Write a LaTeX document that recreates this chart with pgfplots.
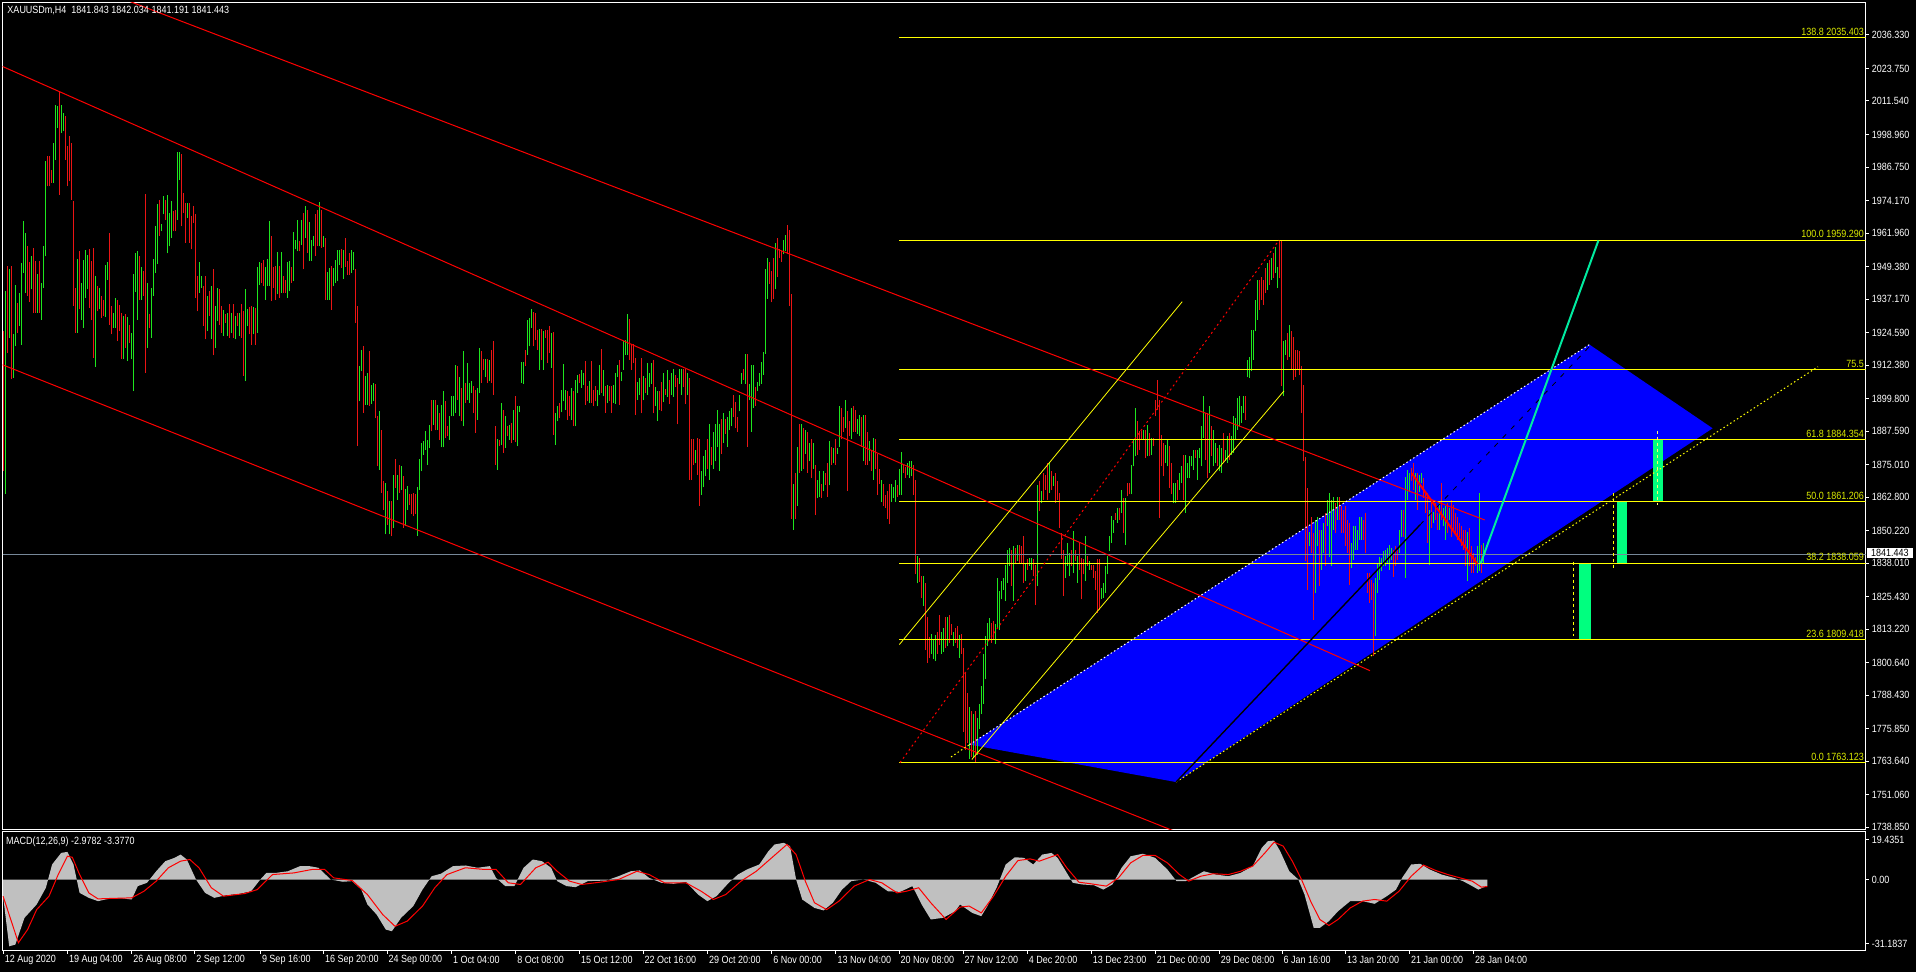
\documentclass[border=0pt]{standalone}
\usepackage{fontspec}
\setmainfont{Liberation Sans}[FakeStretch=0.86]
\usepackage{pgfplots}
\usepackage{pgfplotstable}
\pgfplotsset{compat=1.18}

\definecolor{bull}{RGB}{30,230,30}
\definecolor{bear}{RGB}{235,20,20}
\definecolor{fibyel}{RGB}{255,255,0}
\definecolor{fibtxt}{RGB}{220,235,0}
\definecolor{bidline}{RGB}{119,136,153}
\definecolor{zone}{RGB}{0,0,255}
\definecolor{spring}{RGB}{0,255,127}
\definecolor{aqua}{RGB}{0,235,160}
\definecolor{histo}{RGB}{192,192,192}
\newcommand\lbl{\fontsize{10.5}{12}\selectfont}

% H4 bars: x position (px of the chart), low, high, c=1 up bar / 0 down bar
\pgfplotstableread{
x l h c
3.3 1872.6 1925.1 0
5.3 1863.9 1940.1 1
7.3 1917.0 1949.5 0
9.3 1922.6 1948.3 1
11.3 1907.0 1949.5 0
13.3 1907.6 1923.9 1
15.3 1919.5 1942.6 1
17.3 1924.5 1935.8 0
19.3 1927.0 1939.5 1
21.3 1920.1 1950.7 1
23.3 1947.0 1966.6 1
25.3 1939.5 1962.0 1
27.3 1938.3 1957.0 0
29.3 1936.0 1951.0 0
31.3 1940.8 1953.5 1
33.3 1932.0 1956.4 0
35.3 1932.0 1951.4 0
37.3 1932.0 1946.4 1
39.3 1932.0 1951.4 0
41.3 1929.5 1943.3 1
43.3 1941.4 1957.2 1
45.3 1953.2 1989.1 1
47.3 1979.5 1990.8 0
49.3 1979.5 1990.8 0
51.3 1980.8 1985.8 0
53.3 1980.8 1995.8 1
55.3 1989.5 2010.1 1
57.3 2001.4 2009.8 1
59.3 1976.4 2015.4 0
61.3 1999.5 2010.1 1
63.3 2000.1 2007.0 1
65.3 1989.5 2006.0 0
67.3 1979.5 1994.8 0
69.3 1981.4 1998.3 0
71.3 1974.5 1995.8 0
73.3 1934.5 1974.1 0
75.3 1924.5 1941.4 0
77.3 1924.5 1952.4 1
79.3 1933.3 1955.4 0
81.3 1929.5 1943.3 1
83.3 1926.4 1952.0 1
85.3 1937.6 1955.5 1
87.3 1940.8 1953.6 1
89.3 1933.9 1956.1 0
91.3 1929.5 1951.4 0
93.3 1915.1 1956.4 0
95.3 1911.8 1946.0 1
97.3 1932.6 1942.0 0
99.3 1933.3 1941.4 1
101.3 1930.1 1938.5 0
103.3 1930.8 1937.0 0
105.3 1930.4 1949.9 1
107.3 1944.5 1951.0 1
109.3 1927.6 1962.0 0
111.3 1923.9 1934.5 0
113.3 1926.4 1932.0 1
115.3 1926.4 1937.6 1
117.3 1921.4 1937.0 0
119.3 1925.1 1934.8 0
121.3 1914.5 1932.0 0
123.3 1914.5 1930.8 1
125.3 1918.9 1931.4 0
127.3 1913.9 1930.5 1
129.3 1920.8 1927.6 0
131.3 1914.5 1924.3 1
133.3 1902.6 1946.4 1
135.3 1939.8 1954.5 1
137.3 1929.5 1955.1 1
139.3 1937.0 1953.3 0
141.3 1937.0 1949.3 1
143.3 1938.3 1947.6 0
145.3 1909.5 1976.6 0
147.3 1918.9 1943.3 1
149.3 1926.4 1931.4 0
151.3 1922.6 1941.4 1
153.3 1938.5 1952.4 1
155.3 1947.0 1964.5 1
157.3 1950.4 1972.9 1
159.3 1960.8 1974.3 0
161.3 1962.6 1965.5 1
163.3 1969.0 1976.0 1
165.3 1967.0 1974.3 0
167.3 1954.3 1976.1 1
169.3 1957.0 1969.5 1
171.3 1960.1 1974.1 1
173.3 1962.6 1970.1 0
175.3 1962.6 1970.8 0
177.3 1967.0 1992.4 1
179.3 1982.0 1992.4 1
181.3 1964.5 1991.8 0
183.3 1969.5 1977.0 0
185.3 1958.3 1973.3 0
187.3 1967.6 1973.3 1
189.3 1958.3 1973.3 0
191.3 1955.8 1968.3 0
193.3 1965.8 1972.3 0
195.3 1937.6 1969.3 0
197.3 1932.6 1945.8 0
199.3 1939.5 1951.0 1
201.3 1941.4 1945.8 1
203.3 1927.0 1942.0 0
205.3 1922.0 1946.0 0
207.3 1925.1 1938.5 1
209.3 1930.8 1940.1 0
211.3 1922.0 1942.0 1
213.3 1916.0 1948.5 0
215.3 1918.9 1934.5 1
217.3 1928.9 1941.4 1
219.3 1927.6 1940.8 0
221.3 1924.5 1934.5 0
223.3 1923.3 1932.9 1
225.3 1928.3 1931.4 0
227.3 1923.3 1932.1 1
229.3 1922.6 1935.5 0
231.3 1924.5 1932.0 1
233.3 1922.6 1935.5 0
235.3 1922.0 1931.0 1
237.3 1927.0 1932.0 0
239.3 1923.3 1932.0 1
241.3 1922.6 1935.5 0
243.3 1908.3 1932.8 0
245.3 1906.4 1941.0 1
247.3 1927.0 1933.3 1
249.3 1923.9 1934.3 0
251.3 1920.1 1934.5 0
253.3 1923.9 1934.3 1
255.3 1920.1 1933.9 0
257.3 1924.5 1949.1 1
259.3 1942.6 1951.0 1
261.3 1943.3 1950.8 0
263.3 1942.0 1952.0 0
265.3 1937.0 1949.3 1
267.3 1942.0 1952.3 1
269.3 1942.0 1966.6 1
271.3 1936.4 1960.8 0
273.3 1941.4 1949.1 0
275.3 1937.0 1949.5 0
277.3 1938.9 1954.9 1
279.3 1937.6 1949.5 0
281.3 1939.5 1954.9 1
283.3 1939.5 1945.8 0
285.3 1939.5 1944.5 0
287.3 1937.6 1951.0 1
289.3 1940.1 1951.4 1
291.3 1943.3 1949.3 0
293.3 1943.9 1962.4 1
295.3 1955.8 1959.3 1
297.3 1955.1 1967.0 1
299.3 1955.1 1958.9 0
301.3 1957.6 1967.0 1
303.3 1948.3 1969.5 0
305.3 1960.1 1972.0 1
307.3 1954.5 1970.8 0
309.3 1951.4 1966.1 1
311.3 1951.4 1959.5 1
313.3 1957.0 1960.8 1
315.3 1953.3 1969.1 0
317.3 1957.0 1970.8 0
319.3 1957.0 1973.6 1
321.3 1956.4 1970.8 0
323.3 1956.9 1960.9 1
325.3 1936.9 1960.0 0
327.3 1936.9 1947.5 1
329.3 1936.9 1948.8 1
331.3 1933.2 1949.6 0
333.3 1941.9 1948.8 1
335.3 1943.2 1951.9 1
337.3 1943.8 1955.6 1
339.3 1950.0 1955.6 1
341.3 1948.8 1955.9 0
343.3 1944.7 1955.6 1
345.3 1949.4 1960.0 0
347.3 1946.3 1951.3 0
349.3 1946.3 1954.4 0
351.3 1946.9 1955.6 1
353.3 1948.1 1955.0 1
355.3 1928.1 1948.4 0
357.3 1882.1 1934.4 0
359.3 1898.8 1911.9 1
361.3 1910.0 1918.1 1
363.3 1894.4 1919.6 0
365.3 1897.5 1908.4 1
367.3 1897.5 1909.4 1
369.3 1897.2 1917.5 0
371.3 1897.9 1905.0 1
373.3 1898.8 1905.6 1
375.3 1892.5 1905.4 0
377.3 1874.4 1893.1 0
379.3 1873.1 1895.0 1
381.3 1864.4 1888.1 0
383.3 1858.1 1868.8 0
385.3 1848.8 1868.1 1
387.3 1852.5 1865.0 0
389.3 1848.8 1861.3 1
391.3 1848.1 1861.3 0
393.3 1851.3 1871.3 1
395.3 1866.3 1877.1 0
397.3 1861.9 1871.3 1
399.3 1864.4 1875.0 0
401.3 1865.6 1874.4 1
403.3 1851.3 1870.9 0
405.3 1851.9 1865.9 1
407.3 1858.1 1866.9 1
409.3 1860.0 1863.8 0
411.3 1856.3 1863.8 0
413.3 1855.6 1864.4 0
415.3 1856.3 1863.8 0
417.3 1848.4 1866.5 1
419.3 1865.6 1877.1 1
421.3 1872.5 1883.1 1
423.3 1878.8 1883.8 1
425.3 1880.6 1887.5 1
427.3 1875.0 1884.4 1
429.3 1881.3 1890.0 1
431.3 1887.5 1899.4 0
433.3 1890.0 1899.4 1
435.3 1887.9 1899.4 0
437.3 1888.1 1897.5 1
439.3 1884.4 1894.4 0
441.3 1881.5 1897.3 1
443.3 1881.5 1902.5 1
445.3 1885.0 1898.8 0
447.3 1885.6 1889.4 0
449.3 1884.4 1893.1 1
451.3 1893.1 1900.6 1
453.3 1893.1 1900.6 1
455.3 1894.4 1912.5 1
457.3 1899.4 1911.9 0
459.3 1893.1 1908.1 1
461.3 1891.3 1903.8 0
463.3 1889.4 1917.5 1
465.3 1898.1 1905.6 0
467.3 1899.4 1913.1 1
469.3 1898.1 1905.6 1
471.3 1901.9 1906.3 1
473.3 1894.4 1904.4 0
475.3 1886.9 1903.1 0
477.3 1891.9 1903.8 1
479.3 1901.9 1918.8 1
481.3 1905.6 1917.5 0
483.3 1910.6 1914.8 0
485.3 1908.1 1914.6 1
487.3 1905.6 1914.8 0
489.3 1906.3 1914.4 1
491.3 1905.6 1918.1 0
493.3 1901.3 1921.3 0
495.3 1875.0 1889.4 0
497.3 1873.1 1884.6 1
499.3 1881.9 1884.4 0
501.3 1882.5 1898.3 1
503.3 1879.4 1895.6 0
505.3 1881.3 1893.1 1
507.3 1885.6 1889.4 0
509.3 1884.4 1890.0 1
511.3 1883.1 1890.6 0
513.3 1884.4 1895.6 1
515.3 1883.4 1900.9 0
517.3 1881.9 1897.1 1
519.3 1894.9 1897.1 1
521.3 1905.6 1913.4 1
523.3 1905.4 1913.6 1
525.3 1911.9 1918.1 0
527.3 1916.3 1929.4 1
529.3 1919.4 1930.0 1
531.3 1926.3 1933.5 1
533.3 1919.4 1932.2 0
535.3 1921.9 1931.9 0
537.3 1918.1 1925.6 0
539.3 1910.6 1925.9 1
541.3 1914.4 1925.9 0
543.3 1910.6 1925.0 1
545.3 1922.5 1925.4 0
547.3 1913.1 1925.4 0
549.3 1916.9 1926.9 0
551.3 1911.3 1924.4 1
553.3 1886.3 1924.9 0
555.3 1882.5 1894.4 1
557.3 1891.3 1896.9 1
559.3 1892.5 1898.1 0
561.3 1894.6 1903.1 1
563.3 1898.8 1912.9 1
565.3 1895.6 1903.1 1
567.3 1891.9 1902.5 0
569.3 1893.1 1900.6 0
571.3 1891.9 1903.8 1
573.3 1889.4 1902.5 0
575.3 1889.4 1906.9 1
577.3 1901.9 1908.8 1
579.3 1905.6 1909.1 0
581.3 1903.8 1910.6 1
583.3 1905.0 1909.4 1
585.3 1897.5 1914.0 0
587.3 1898.8 1904.6 0
589.3 1898.1 1906.3 1
591.3 1898.1 1913.8 0
593.3 1896.9 1903.1 0
595.3 1898.8 1904.4 0
597.3 1896.9 1903.1 1
599.3 1901.3 1912.3 1
601.3 1901.9 1918.5 0
603.3 1900.6 1910.6 1
605.3 1894.4 1904.4 0
607.3 1898.1 1905.0 1
609.3 1898.8 1904.4 0
611.3 1894.4 1904.4 0
613.3 1898.1 1905.0 1
615.3 1897.9 1909.4 1
617.3 1908.1 1912.5 1
619.3 1897.5 1914.4 0
621.3 1906.3 1909.8 1
623.3 1910.6 1921.3 1
625.3 1916.3 1921.9 1
627.3 1916.3 1931.6 1
629.3 1914.4 1929.6 0
631.3 1910.6 1920.0 0
633.3 1913.1 1920.4 0
635.3 1893.8 1915.0 0
637.3 1899.4 1905.9 1
639.3 1901.3 1907.5 1
641.3 1894.3 1915.1 0
643.3 1899.1 1908.2 1
645.3 1901.9 1907.5 0
647.3 1901.2 1913.0 1
649.3 1904.0 1909.5 1
651.3 1905.4 1913.0 1
653.3 1894.3 1914.4 0
655.3 1897.0 1904.0 1
657.3 1891.5 1902.6 1
659.3 1895.6 1902.6 0
661.3 1895.0 1906.1 0
663.3 1898.4 1909.5 1
665.3 1901.2 1903.3 0
667.3 1900.5 1910.6 1
669.3 1897.7 1906.8 0
671.3 1901.2 1909.5 1
673.3 1900.5 1910.9 1
675.3 1904.0 1908.8 0
677.3 1890.1 1907.4 0
679.3 1905.4 1910.9 1
681.3 1901.2 1910.9 1
683.3 1904.0 1910.9 0
685.3 1897.7 1910.9 0
687.3 1901.2 1909.5 1
689.3 1869.3 1907.4 0
691.3 1869.3 1884.5 0
693.3 1874.8 1884.5 0
695.3 1875.5 1880.4 1
697.3 1871.3 1885.2 0
699.3 1859.5 1884.5 0
701.3 1863.7 1872.7 1
703.3 1866.5 1878.3 1
705.3 1870.6 1880.4 1
707.3 1873.4 1884.5 0
709.3 1869.3 1890.1 1
711.3 1874.8 1881.8 0
713.3 1873.4 1887.3 1
715.3 1876.2 1890.1 1
717.3 1881.8 1895.6 1
719.3 1872.7 1890.1 1
721.3 1879.0 1892.2 0
723.3 1883.2 1894.3 1
725.3 1886.6 1892.2 0
727.3 1881.8 1892.9 1
729.3 1888.0 1895.0 1
731.3 1889.4 1896.3 1
733.3 1892.9 1901.2 0
735.3 1888.7 1898.4 0
737.3 1887.3 1892.9 0
739.3 1895.0 1901.2 1
741.3 1905.4 1909.5 1
743.3 1906.8 1910.9 0
745.3 1905.4 1916.5 1
747.3 1881.8 1916.5 0
749.3 1899.1 1905.4 1
751.3 1887.3 1912.3 1
753.3 1896.3 1912.3 1
755.3 1897.0 1904.0 0
757.3 1902.6 1906.1 1
759.3 1904.7 1909.5 1
761.3 1905.4 1913.7 1
763.3 1908.8 1917.2 1
765.3 1916.5 1948.4 1
767.3 1937.3 1952.6 1
769.3 1942.9 1951.2 0
771.3 1935.9 1947.7 0
773.3 1937.3 1952.6 0
775.3 1940.8 1958.2 1
777.3 1945.6 1960.2 0
779.3 1952.6 1956.1 0
781.3 1951.2 1955.4 0
783.3 1954.0 1959.5 1
785.3 1955.4 1961.2 1
787.3 1954.0 1965.1 0
789.3 1934.5 1963.0 0
791.3 1854.7 1939.0 0
793.3 1850.5 1867.9 1
795.3 1854.7 1872.0 0
797.3 1859.5 1881.8 1
799.3 1872.0 1890.1 0
801.3 1872.7 1890.4 1
803.3 1873.4 1888.7 0
805.3 1879.0 1888.0 1
807.3 1872.0 1887.3 0
809.3 1876.2 1883.2 1
811.3 1870.0 1884.5 0
813.3 1873.4 1883.2 1
815.3 1856.1 1874.8 0
817.3 1862.3 1869.3 1
819.3 1863.0 1872.7 1
821.3 1862.3 1867.9 0
823.3 1865.1 1872.7 1
825.3 1867.2 1872.0 0
827.3 1863.0 1875.5 0
829.3 1867.2 1883.8 1
831.3 1874.8 1881.8 0
833.3 1875.5 1881.1 1
835.3 1874.8 1884.5 0
837.3 1879.0 1881.1 1
839.3 1881.8 1897.0 1
841.3 1884.5 1896.3 0
843.3 1887.3 1892.9 0
845.3 1888.7 1899.1 1
847.3 1865.1 1895.0 0
849.3 1885.9 1891.5 0
851.3 1884.5 1896.3 1
853.3 1887.3 1897.0 0
855.3 1887.3 1895.6 0
857.3 1886.6 1892.2 1
859.3 1885.9 1893.6 1
861.3 1881.8 1892.9 0
863.3 1876.2 1893.6 1
865.3 1874.8 1893.6 0
867.3 1874.8 1887.3 0
869.3 1876.2 1883.8 1
871.3 1872.7 1880.4 0
873.3 1869.3 1885.2 1
875.3 1873.4 1884.5 0
877.3 1863.7 1879.0 0
879.3 1867.9 1873.4 0
881.3 1860.9 1869.3 1
883.3 1859.5 1867.9 0
885.3 1858.8 1863.7 0
887.3 1854.7 1865.1 0
889.3 1852.6 1867.9 0
891.3 1860.9 1867.9 1
893.3 1862.3 1866.5 1
895.3 1860.9 1869.3 1
897.3 1863.0 1867.2 0
899.3 1863.7 1873.4 1
901.3 1863.7 1879.7 1
903.3 1872.0 1874.8 0
905.3 1870.0 1874.1 0
907.3 1871.3 1875.5 1
909.3 1870.0 1876.2 1
911.3 1870.6 1876.2 1
913.3 1863.7 1874.8 0
915.3 1833.8 1869.3 0
917.3 1830.4 1840.8 1
919.3 1831.1 1840.1 0
921.3 1824.8 1833.2 0
923.3 1822.0 1833.2 1
925.3 1805.4 1830.4 0
927.3 1800.5 1817.9 0
929.3 1802.6 1810.2 0
931.3 1804.0 1811.6 1
933.3 1801.9 1809.5 1
935.3 1801.2 1810.9 1
937.3 1804.0 1812.3 0
939.3 1807.4 1818.6 0
941.3 1804.0 1812.3 1
943.3 1804.7 1813.7 1
945.3 1806.1 1817.9 0
947.3 1806.8 1817.9 1
949.3 1808.2 1818.6 0
951.3 1810.9 1815.1 0
953.3 1806.8 1812.3 1
955.3 1808.2 1813.7 0
957.3 1806.1 1814.4 0
959.3 1802.6 1810.9 1
961.3 1804.0 1811.6 0
963.3 1774.8 1806.1 0
965.3 1768.0 1797.0 0
967.3 1770.5 1789.3 0
969.3 1764.5 1784.0 1
971.3 1765.2 1782.6 0
973.3 1765.2 1781.3 1
975.3 1763.1 1782.6 0
977.3 1766.0 1780.0 1
979.3 1775.9 1785.3 1
981.3 1781.3 1792.0 1
983.3 1785.3 1804.1 1
985.3 1794.4 1810.6 1
987.3 1806.9 1815.6 1
989.3 1809.4 1817.5 1
991.3 1808.1 1815.6 0
993.3 1809.4 1816.3 0
995.3 1807.5 1815.0 1
997.3 1813.8 1832.5 1
999.3 1813.1 1827.5 1
1001.3 1824.4 1831.3 1
1003.3 1828.1 1832.5 1
1005.3 1823.8 1837.5 1
1007.3 1830.6 1843.1 1
1009.3 1836.9 1843.8 1
1011.3 1829.4 1843.1 0
1013.3 1823.8 1844.4 1
1015.3 1838.1 1843.8 0
1017.3 1838.8 1845.0 1
1019.3 1838.1 1845.0 0
1021.3 1838.1 1844.4 0
1023.3 1830.6 1848.4 0
1025.3 1831.3 1838.1 1
1027.3 1835.6 1839.4 0
1029.3 1836.9 1840.0 1
1031.3 1835.6 1840.0 1
1033.3 1833.1 1839.4 0
1035.3 1822.5 1837.5 0
1037.3 1829.4 1867.5 1
1039.3 1857.5 1868.8 0
1041.3 1860.6 1865.0 1
1043.3 1861.9 1871.9 0
1045.3 1865.6 1871.3 0
1047.3 1861.9 1875.6 0
1049.3 1864.4 1875.6 1
1051.3 1865.6 1872.5 0
1053.3 1866.9 1870.6 1
1055.3 1860.6 1871.9 0
1057.3 1861.9 1868.8 0
1059.3 1851.3 1864.4 0
1061.3 1839.4 1849.4 0
1063.3 1825.6 1843.1 0
1065.3 1832.5 1840.6 1
1067.3 1836.9 1845.6 1
1069.3 1833.1 1841.9 1
1071.3 1836.9 1843.1 0
1073.3 1834.4 1850.0 1
1075.3 1838.8 1843.1 0
1077.3 1830.6 1840.6 1
1079.3 1835.6 1845.6 0
1081.3 1824.4 1840.0 0
1083.3 1833.8 1839.4 0
1085.3 1831.3 1848.1 1
1087.3 1836.9 1840.6 0
1089.3 1835.6 1838.8 1
1091.3 1835.6 1837.5 0
1093.3 1832.5 1837.5 0
1095.3 1828.1 1835.0 0
1097.3 1819.4 1839.4 0
1099.3 1820.6 1839.4 0
1101.3 1824.4 1828.8 1
1103.3 1825.0 1830.6 1
1105.3 1826.9 1836.9 1
1107.3 1833.8 1840.6 1
1109.3 1842.5 1848.1 1
1111.3 1845.6 1855.6 1
1113.3 1849.4 1854.4 1
1115.3 1854.4 1856.9 0
1117.3 1853.1 1858.8 1
1119.3 1854.4 1858.8 0
1121.3 1856.9 1865.6 1
1123.3 1849.4 1862.5 0
1125.3 1845.0 1862.5 1
1127.3 1863.1 1868.1 0
1129.3 1863.8 1868.1 0
1131.3 1863.8 1875.0 1
1133.3 1874.4 1884.4 1
1135.3 1878.1 1896.3 1
1137.3 1878.8 1891.3 0
1139.3 1880.6 1887.5 0
1141.3 1884.4 1887.5 0
1143.3 1884.4 1888.1 1
1145.3 1877.5 1888.1 0
1147.3 1878.1 1890.0 1
1149.3 1878.1 1886.9 0
1151.3 1878.8 1885.0 1
1153.3 1881.9 1885.0 0
1155.3 1893.1 1899.4 0
1157.3 1895.6 1906.9 0
1159.3 1855.0 1899.4 0
1161.3 1874.4 1886.3 0
1163.3 1870.6 1883.1 0
1165.3 1875.6 1882.5 1
1167.3 1874.4 1884.4 1
1169.3 1866.3 1881.9 0
1171.3 1863.8 1875.6 0
1173.3 1860.6 1868.1 1
1175.3 1860.6 1868.1 1
1177.3 1861.9 1869.4 0
1179.3 1865.6 1871.9 1
1181.3 1868.1 1874.4 1
1183.3 1861.9 1878.8 0
1185.3 1856.9 1878.8 1
1187.3 1870.0 1875.6 1
1189.3 1870.0 1878.1 1
1191.3 1874.4 1878.1 1
1193.3 1873.1 1880.6 1
1195.3 1877.5 1880.6 0
1197.3 1869.4 1880.6 1
1199.3 1877.5 1881.3 1
1201.3 1874.4 1889.4 1
1203.3 1885.0 1900.6 1
1205.3 1876.9 1894.4 0
1207.3 1870.0 1894.4 0
1209.3 1871.9 1896.9 1
1211.3 1878.1 1889.4 0
1213.3 1874.4 1888.1 1
1215.3 1875.6 1883.1 1
1217.3 1874.4 1881.3 0
1219.3 1872.5 1882.5 1
1221.3 1871.9 1881.3 1
1223.3 1875.6 1886.9 0
1225.3 1876.3 1880.6 1
1227.3 1875.6 1885.6 1
1229.3 1876.9 1886.9 0
1231.3 1878.8 1885.6 1
1233.3 1879.4 1893.1 1
1235.3 1884.4 1892.5 1
1237.3 1888.1 1900.0 1
1239.3 1889.4 1900.6 1
1241.3 1890.6 1896.9 1
1243.3 1894.4 1900.6 1
1245.3 1891.9 1900.6 0
1247.3 1908.1 1914.4 1
1249.3 1907.5 1915.6 1
1251.3 1910.0 1925.6 1
1253.3 1914.4 1925.6 1
1255.3 1925.0 1936.9 1
1257.3 1929.4 1944.4 1
1259.3 1933.1 1944.4 0
1261.3 1936.9 1945.6 0
1263.3 1935.0 1944.4 0
1265.3 1939.4 1948.8 0
1267.3 1940.6 1950.6 1
1269.3 1942.5 1951.9 0
1271.3 1944.4 1952.5 1
1273.3 1945.0 1954.4 0
1275.3 1946.9 1956.9 1
1277.3 1941.3 1949.4 1
1279.3 1945.0 1959.3 0
1281.3 1904.4 1959.4 0
1283.3 1900.6 1921.3 1
1285.3 1916.3 1921.9 1
1287.3 1914.4 1924.4 0
1289.3 1915.6 1927.5 1
1291.3 1910.6 1925.0 0
1293.3 1906.9 1923.1 0
1295.3 1908.1 1918.1 0
1297.3 1910.6 1918.1 0
1299.3 1908.8 1917.5 0
1301.3 1894.4 1911.9 0
1303.3 1876.2 1905.0 0
1305.3 1838.9 1878.0 0
1307.3 1828.0 1866.2 0
1309.3 1844.3 1849.9 1
1311.3 1841.8 1855.5 0
1313.3 1816.8 1849.3 0
1315.3 1826.8 1854.3 1
1317.3 1844.3 1855.5 1
1319.3 1829.3 1850.5 0
1321.3 1835.5 1850.5 1
1323.3 1841.8 1853.0 1
1325.3 1836.8 1856.8 0
1327.3 1851.8 1861.8 1
1329.3 1840.5 1864.3 1
1331.3 1836.8 1861.8 1
1333.3 1850.5 1863.0 1
1335.3 1849.3 1860.5 0
1337.3 1854.3 1863.0 1
1339.3 1854.3 1863.0 0
1341.3 1849.3 1859.3 0
1343.3 1849.3 1858.0 0
1345.3 1844.3 1859.3 0
1347.3 1841.8 1854.3 0
1349.3 1829.9 1853.0 0
1351.3 1836.2 1845.5 1
1353.3 1839.3 1851.8 1
1355.3 1843.0 1851.8 1
1357.3 1843.0 1850.5 1
1359.3 1846.8 1855.5 1
1361.3 1846.8 1855.5 1
1363.3 1846.8 1854.3 0
1365.3 1841.8 1856.8 0
1367.3 1826.8 1834.3 0
1369.3 1823.1 1834.3 0
1371.3 1824.3 1831.8 0
1373.3 1803.1 1830.5 0
1375.3 1810.5 1832.4 1
1377.3 1826.8 1838.0 1
1379.3 1831.8 1840.5 1
1381.3 1834.9 1839.9 1
1383.3 1836.8 1842.4 1
1385.3 1836.8 1843.0 1
1387.3 1838.0 1843.7 1
1389.3 1835.5 1844.9 1
1391.3 1839.3 1843.7 1
1393.3 1833.0 1843.0 0
1395.3 1836.8 1844.3 0
1397.3 1839.3 1843.0 0
1399.3 1841.8 1850.5 1
1401.3 1848.0 1858.0 1
1403.3 1848.0 1858.0 0
1405.3 1832.4 1870.5 1
1407.3 1861.8 1873.0 1
1409.3 1864.9 1871.8 1
1411.3 1868.7 1873.7 0
1413.3 1865.5 1875.5 0
1415.3 1861.8 1871.8 1
1417.3 1858.0 1871.8 0
1419.3 1864.9 1871.2 1
1421.3 1868.0 1871.8 1
1423.3 1862.4 1869.9 0
1425.3 1856.8 1864.3 0
1427.3 1845.5 1864.3 0
1429.3 1837.4 1858.0 1
1431.3 1851.2 1861.2 0
1433.3 1853.0 1857.4 1
1435.3 1854.3 1860.5 0
1437.3 1850.5 1856.8 0
1439.3 1850.5 1860.5 1
1441.3 1854.3 1868.0 0
1443.3 1851.8 1858.7 1
1445.3 1846.8 1859.3 1
1447.3 1849.3 1860.5 0
1449.3 1854.3 1858.7 1
1451.3 1848.0 1861.8 0
1453.3 1850.5 1859.9 0
1455.3 1848.7 1856.8 0
1457.3 1846.8 1855.5 0
1459.3 1848.0 1853.0 0
1461.3 1844.3 1851.8 0
1463.3 1843.0 1850.5 0
1465.3 1836.8 1850.5 0
1467.3 1831.2 1849.9 1
1469.3 1836.8 1851.2 0
1471.3 1834.3 1844.3 0
1473.3 1834.3 1841.8 0
1475.3 1836.8 1840.5 0
1477.3 1834.3 1844.3 1
1479.3 1834.9 1864.3 1
1481.3 1834.3 1844.9 0
1483.3 1838.0 1845.5 1
1485.3 1841.2 1842.0 0
}\bars

\begin{document}
\begin{tikzpicture}
\fill[black] (0,0) rectangle (1916bp,972bp);

% ---------------- price panel ----------------
\begin{axis}[
  at={(2.5bp,142.7bp)}, anchor=south west,
  scale only axis, width=1863.2bp, height=827bp,
  xmin=2.5, xmax=1865.7, ymin=1738.1, ymax=2048.6,
  axis line style={white, line width=1bp},
  xtick=\empty,
  ytick={2036.33,2023.75,2011.54,1998.96,1986.75,1974.17,1961.96,1949.38,1937.17,1924.59,1912.38,1899.8,1887.59,1875.01,1862.8,1850.22,1838.01,1825.43,1813.22,1800.64,1788.43,1775.85,1763.64,1751.06,1738.85},
  yticklabels={2036.330,2023.750,2011.540,1998.960,1986.750,1974.170,1961.960,1949.380,1937.170,1924.590,1912.380,1899.800,1887.590,1875.010,1862.800,1850.220,1838.010,1825.430,1813.220,1800.640,1788.430,1775.850,1763.640,1751.060,1738.850},
  ytick pos=right, yticklabel pos=right,
  tick align=outside, major tick length=3bp,
  tick style={white, line width=1bp},
  yticklabel style={text=white, font=\lbl, inner sep=0pt, anchor=west, xshift=3bp},
  every axis plot/.append style={line cap=butt},
]
% blue zone (background object)
\addplot[fill=zone, draw=none] coordinates {(969.5,1769.9) (1589.4,1920.09) (1712.6,1888.66) (1176.1,1755.83)} -- cycle;
% green target boxes
\addplot[fill=spring, draw=none] coordinates {(1579,1809.42) (1591,1809.42) (1591,1838.06) (1579,1838.06)} -- cycle;
\addplot[fill=spring, draw=none] coordinates {(1617,1838.06) (1627,1838.06) (1627,1861.21) (1617,1861.21)} -- cycle;
\addplot[fill=spring, draw=none] coordinates {(1653,1861.21) (1663,1861.21) (1663,1884.35) (1653,1884.35)} -- cycle;

% bars
\addplot[bull, line width=1bp, quiver={u=0, v=\thisrow{h}-\thisrow{l}},
  restrict expr to domain={\thisrow{c}}{0.5:1.5}] table[x=x, y=l] {\bars};
\addplot[bear, line width=1bp, quiver={u=0, v=\thisrow{h}-\thisrow{l}},
  restrict expr to domain={\thisrow{c}}{-0.5:0.5}] table[x=x, y=l] {\bars};

% fibonacci levels
\addplot[fibyel, line width=1bp] coordinates {(899,2035.403) (1865.7,2035.403)};
\addplot[fibyel, line width=1bp] coordinates {(899,1959.29) (1865.7,1959.29)};
\addplot[fibyel, line width=1bp] coordinates {(899,1910.7) (1865.7,1910.7)};
\addplot[fibyel, line width=1bp] coordinates {(899,1884.354) (1865.7,1884.354)};
\addplot[fibyel, line width=1bp] coordinates {(899,1861.206) (1865.7,1861.206)};
\addplot[fibyel, line width=1bp] coordinates {(899,1838.059) (1865.7,1838.059)};
\addplot[fibyel, line width=1bp] coordinates {(899,1809.418) (1865.7,1809.418)};
\addplot[fibyel, line width=1bp] coordinates {(899,1763.123) (1865.7,1763.123)};
\addplot[red, line width=1bp, dash pattern=on 2bp off 3bp] coordinates {(900,1763.12) (1279,1959.29)};

% bid line
\addplot[bidline, line width=1bp] coordinates {(2.5,1841.443) (1865.7,1841.443)};

% descending red trend lines
\addplot[red, line width=1bp] coordinates {(125,2049.6) (1484.7,1854.23)};
\addplot[red, line width=1bp] coordinates {(2.5,2024.5) (1370,1797.65)};
\addplot[red, line width=1bp] coordinates {(2.5,1912.5) (1180,1736.56)};
\addplot[red, line width=2bp] coordinates {(1411.7,1871.76) (1477.3,1837.71)};

% rising yellow channel
\addplot[fibyel, line width=0.8bp] coordinates {(899.3,1807.45) (1182.2,1936.19)};
\addplot[fibyel, line width=0.8bp] coordinates {(971.8,1764.3) (1284,1902.7)};

% zone edges and median line
\addplot[white, line width=1bp, dash pattern=on 1.5bp off 2.5bp] coordinates {(969.5,1769.9) (1589.4,1920.09)};
\addplot[fibyel, line width=1bp, dash pattern=on 1.5bp off 2.5bp] coordinates {(951,1765.25) (969.5,1769.9)};
\addplot[fibyel, line width=1bp, dash pattern=on 1.5bp off 2.5bp] coordinates {(1176.1,1755.83) (1818,1911.79)};
\addplot[black, line width=1.4bp] coordinates {(1176.1,1755.83) (1420,1852.4)};
\addplot[black, line width=0.8bp, dash pattern=on 5bp off 7bp] coordinates {(1420,1852.4) (1590,1919.56)};

% projection line
\addplot[aqua, line width=2bp] coordinates {(1480.7,1837.97) (1598.4,1959.17)};

% dashed markers
\addplot[fibyel, line width=1bp, dash pattern=on 3bp off 3bp] coordinates {(1573,1838.6) (1573,1810.7)};
\addplot[fibyel, line width=1bp, dash pattern=on 3bp off 3bp] coordinates {(1613.3,1864.4) (1613.3,1836.2)};
\addplot[fibyel!60!white, line width=1bp, dash pattern=on 3bp off 3bp] coordinates {(1657.7,1887.8) (1657.7,1859.9)};

% fibonacci labels
\begin{scope}[every node/.style={anchor=south east, text=fibtxt, font=\lbl, inner sep=0pt, yshift=2bp}]
\node at (axis cs:1864,2035.403) {138.8 2035.403};
\node at (axis cs:1864,1959.29) {100.0 1959.290};
\node at (axis cs:1864,1910.7) {75.5};
\node at (axis cs:1864,1884.354) {61.8 1884.354};
\node at (axis cs:1864,1861.206) {50.0 1861.206};
\node at (axis cs:1864,1838.059) {38.2 1838.059};
\node at (axis cs:1864,1809.418) {23.6 1809.418};
\node at (axis cs:1864,1763.123) {0.0 1763.123};
\end{scope}
\end{axis}

% ---------------- MACD panel ----------------
\begin{axis}[
  at={(2.5bp,21.3bp)}, anchor=south west,
  scale only axis, width=1863.2bp, height=119bp,
  xmin=2.5, xmax=1865.7, ymin=-34.55, ymax=23.2,
  axis line style={white, line width=1bp},
  ytick={19.4351,0,-31.1837},
  yticklabels={19.4351,0.00,-31.1837},
  ytick pos=right, yticklabel pos=right,
  xtick={3.1,67.4,131.7,194.7,260.3,323.3,387,451.3,515.6,579.3,643,707.3,771.6,835.9,899,963,1027.1,1091.1,1155.1,1219.1,1282,1345.4,1409.4,1473.4},
  xticklabels={12 Aug 2020,19 Aug 04:00,26 Aug 08:00,2 Sep 12:00,9 Sep 16:00,16 Sep 20:00,24 Sep 00:00,1 Oct 04:00,8 Oct 08:00,15 Oct 12:00,22 Oct 16:00,29 Oct 20:00,6 Nov 00:00,13 Nov 04:00,20 Nov 08:00,27 Nov 12:00,4 Dec 20:00,13 Dec 23:00,21 Dec 00:00,29 Dec 08:00,6 Jan 16:00,13 Jan 20:00,21 Jan 00:00,28 Jan 04:00},
  xtick pos=bottom,
  tick align=outside, major tick length=3bp,
  tick style={white, line width=1bp},
  yticklabel style={text=white, font=\lbl, inner sep=0pt, anchor=west, xshift=3bp},
  xticklabel style={text=white, font=\lbl, inner sep=0pt, anchor=west, xshift=1.5bp, yshift=-6bp},
]
\addplot[fill=histo, draw=none] coordinates {
(3.1,0) (3.1,-8.1) (9.2,-32.4) (15.3,-31.6) (24.5,-18.6) (36.7,-12.1) (45.9,-4.0) (52.1,7.3) (61.2,12.9) (67.4,13.4) (73.5,7.3) (79.6,-6.5) (88.8,-8.9) (98,-10.5) (110.2,-9.2) (122.5,-9.2) (131.7,-9.7) (137.8,-3.2) (147,-1.6) (156.2,4.0) (165.3,8.9) (174.5,10.5) (180.6,12.1) (186.8,9.7) (196,0) (205.1,-6.5) (214.3,-8.9) (226.6,-7.6) (238.8,-7.0) (251.1,-5.7) (260.3,0) (266.4,3.2) (275.6,3.2) (287.8,4.0) (300.1,6.5) (309.2,6.5) (318.4,5.7) (330.7,0) (342.9,-1.1) (352.1,-0.8) (361.3,-4.9) (367.4,-12.1) (376.6,-17.0) (385.8,-24.3) (391.9,-25.1) (401.1,-18.6) (413.3,-12.9) (422.5,-4.9) (431.7,1.6) (440.9,2.8) (453.1,6.5) (465.4,6.8) (477.6,5.7) (489.9,6.5) (496,0.8) (505.2,-3.2) (514.4,-3.2) (523.6,5.7) (532.8,9.7) (541.9,8.9) (551.1,5.7) (557.2,-0.8) (566.4,-3.2) (575.6,-3.7) (587.9,-0.8) (606.2,-0.5) (618.5,1.6) (630.7,4.0) (639.9,4.4) (649.1,0.8) (661.4,-1.6) (673.6,-2.1) (685.9,-1.1) (698.1,-7.3) (707.3,-10.5) (716.5,-8.1) (728.7,-1.6) (737.9,2.4) (747.1,4.9) (759.3,7.3) (768.5,13.8) (774.6,17.0) (783.8,17.8) (790,16.2) (796.1,0) (802.2,-9.7) (814.5,-13.8) (823.6,-15.0) (832.8,-11.3) (842,-4.9) (851.2,-0.8) (863.4,0) (875.7,-1.6) (887.9,-5.7) (900.2,-6.0) (912.4,-3.2) (921.6,-12.1) (930.8,-19.4) (943,-18.6) (955.3,-15.4) (960,-12.1) (972.2,-16.2) (981.3,-17.8) (987.4,-12.9) (996.6,-4.0) (1005.7,7.3) (1014.9,10.8) (1024,10.5) (1033.2,7.3) (1042.3,12.1) (1051.5,12.9) (1057.6,10.5) (1063.7,5.7) (1072.8,-1.6) (1082,-2.4) (1094.1,-2.8) (1103.3,-4.9) (1112.4,-2.4) (1121.6,5.7) (1130.7,11.3) (1142.9,12.5) (1155.1,10.5) (1167.3,4.9) (1176.5,-0.8) (1185.6,-0.8) (1194.8,1.6) (1203.9,4.0) (1216.1,2.4) (1228.3,1.6) (1240.5,3.2) (1252.7,6.5) (1261.8,15.4) (1267.9,18.6) (1274,18.9) (1280.1,13.8) (1289.3,4.0) (1298.4,0) (1304.5,-7.3) (1313.7,-23.5) (1319.8,-23.5) (1328.9,-20.2) (1338,-15.4) (1350.2,-10.5) (1362.4,-10.5) (1374.6,-11.8) (1386.8,-8.1) (1396,-4.9) (1402.1,0.8) (1411.2,7.3) (1420.4,7.6) (1429.5,4.9) (1441.7,2.4) (1453.9,0.8) (1463,-0.8) (1472.2,-3.2) (1478.3,-4.9) (1487.4,-3.0) (1487.4,0)
} -- cycle;
\addplot[red, line width=1bp] coordinates {
(3.1,-8.1) (18.4,-30.7) (27.6,-24.3) (36.7,-14.6) (49,-8.1) (58.2,2.4) (67.4,11.3) (72.3,10.8) (79.6,2.4) (88.8,-6.5) (98,-9.4) (110.2,-9.2) (131.7,-8.9) (143.9,-5.7) (156.2,-0.8) (168.4,5.7) (180.6,8.9) (189.8,9.7) (199,5.7) (211.3,-4.0) (223.5,-8.1) (244.9,-6.8) (257.2,-4.9) (272.5,2.4) (293.9,3.2) (312.3,4.9) (324.6,4.9) (333.7,0.8) (352.1,-0.5) (367.4,-7.3) (382.7,-17.0) (395,-22.7) (407.2,-20.2) (422.5,-12.9) (434.8,-4.0) (447,2.4) (465.4,5.7) (483.8,4.9) (496,4.9) (508.3,-1.6) (520.5,-2.4) (535.8,5.7) (548.1,8.4) (557.2,4.0) (569.5,-0.8) (581.7,-2.4) (600.1,-1.3) (618.5,0) (636.9,4.0) (649.1,2.4) (664.4,-1.6) (685.9,-1.6) (701.2,-5.7) (713.4,-9.7) (725.7,-7.3) (741,-0.8) (756.3,4.0) (771.6,10.5) (786.9,17.0) (796.1,12.1) (805.3,-0.8) (814.5,-11.3) (826.7,-14.6) (838.9,-10.5) (854.2,-3.2) (869.6,0) (881.8,-1.6) (897.1,-6.5) (906.3,-5.7) (918.6,-4.0) (930.8,-11.3) (946.1,-19.4) (960,-13.4) (969.1,-12.9) (981.3,-16.2) (993.5,-8.1) (1005.7,1.6) (1017.9,9.2) (1030.1,10.0) (1039.3,8.9) (1048.4,10.5) (1057.6,12.1) (1066.7,5.7) (1078.9,-1.3) (1091.1,-2.1) (1106.3,-3.2) (1118.5,0.8) (1130.7,8.1) (1142.9,11.7) (1155.1,11.7) (1167.3,8.1) (1179.5,2.4) (1188.7,-0.8) (1200.9,1.6) (1213,2.8) (1228.3,2.4) (1240.5,4.0) (1252.7,6.5) (1264.9,12.9) (1274,18.1) (1283.2,16.2) (1292.3,8.9) (1301.5,0) (1310.6,-10.5) (1319.8,-19.4) (1328.9,-22.3) (1338,-19.4) (1350.2,-13.8) (1362.4,-10.5) (1374.6,-9.7) (1386.8,-10.5) (1399,-5.7) (1411.2,1.6) (1423.4,7.0) (1435.6,4.4) (1447.8,2.4) (1460,0.8) (1472.2,-0.8) (1481.3,-3.7) (1487.4,-3.4)
};
\end{axis}

% texts outside the plotted data
\node[anchor=west, text=white, font=\lbl, inner sep=0pt] at (7.3bp,961bp) {XAUUSDm,H4\ \ 1841.843 1842.034 1841.191 1841.443};
\node[anchor=west, text=white, font=\lbl, inner sep=0pt] at (6bp,130.3bp) {MACD(12,26,9) -2.9782 -3.3770};
\node[anchor=west, fill=white, text=black, font=\lbl, inner xsep=4bp, inner ysep=1.5bp] at (1867bp,418.7bp) {1841.443};

\pgfresetboundingbox
\useasboundingbox (0,0) rectangle (1916bp,972bp);
\end{tikzpicture}
\end{document}
